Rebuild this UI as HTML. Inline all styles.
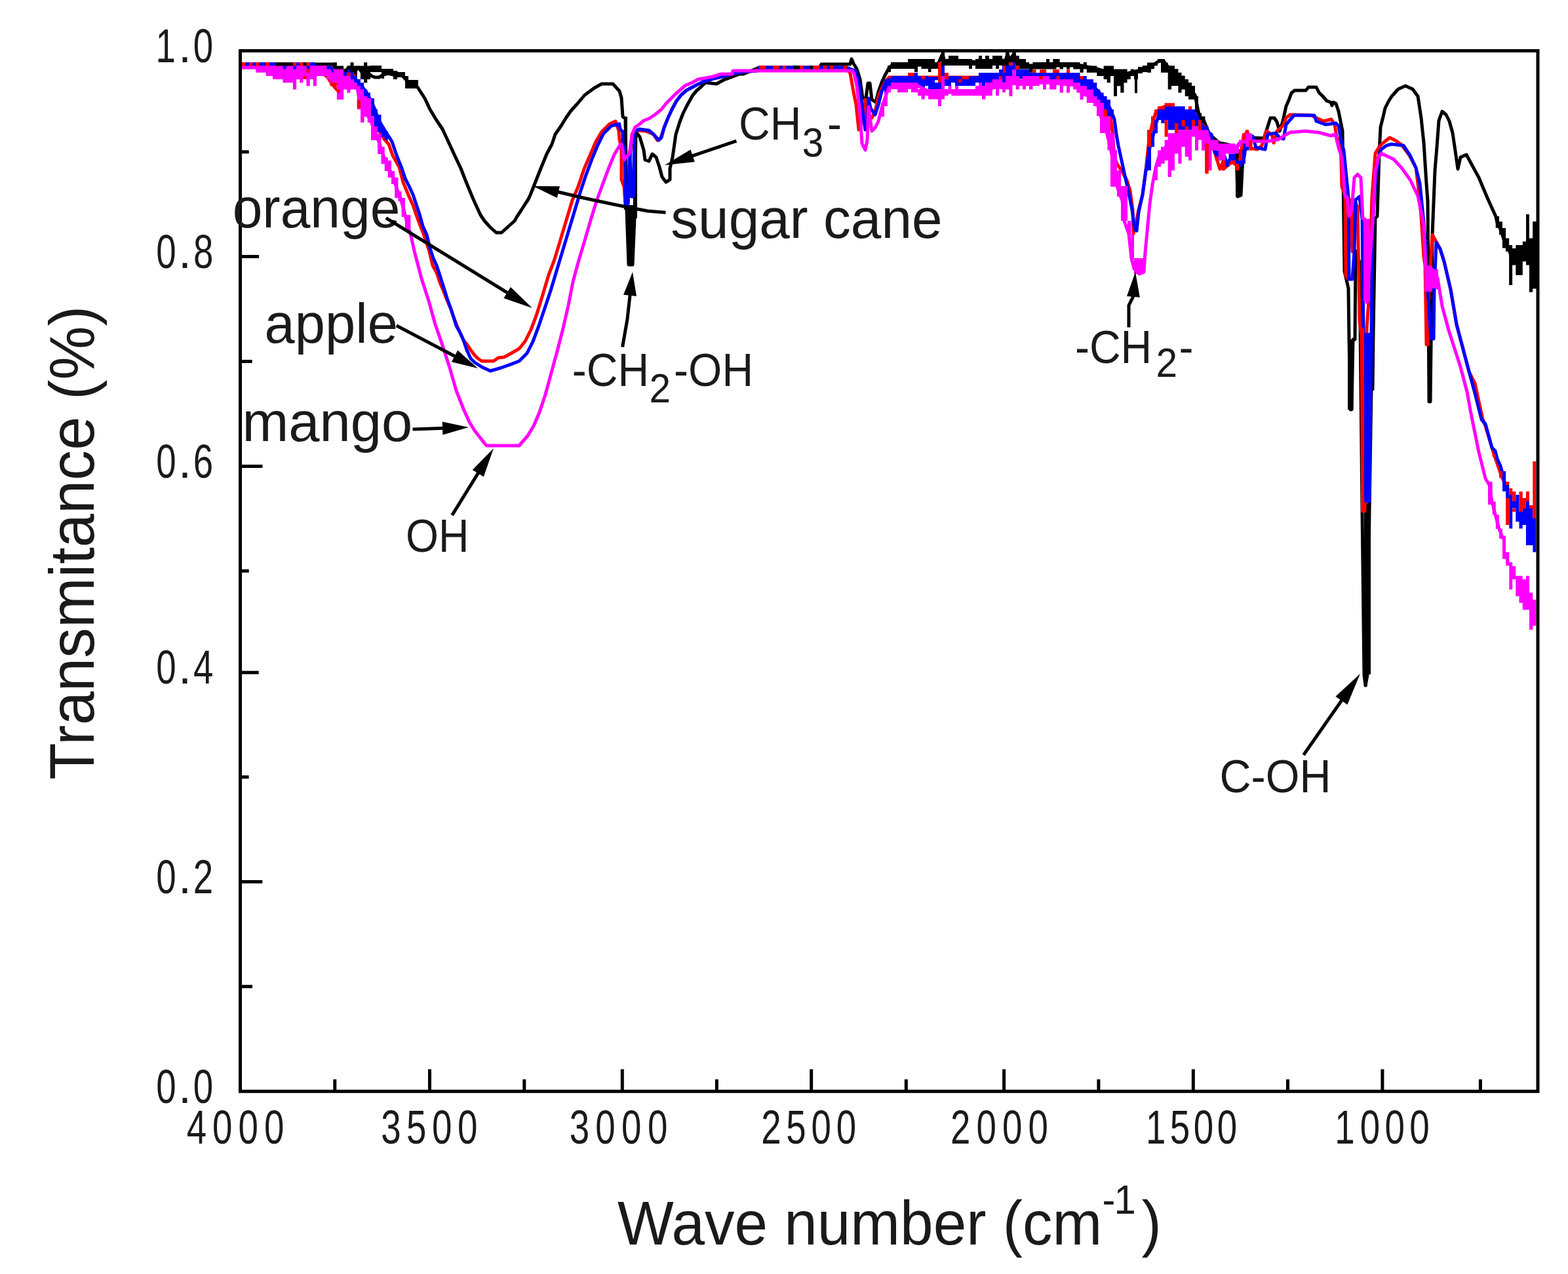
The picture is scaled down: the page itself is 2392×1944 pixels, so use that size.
<!DOCTYPE html>
<html><head><meta charset="utf-8"><title>FTIR spectra</title>
<style>html,body{margin:0;padding:0;background:#fff;}body{width:2392px;height:1944px;overflow:hidden;}svg{display:block;}</style>
</head><body>
<svg width="2392" height="1944" viewBox="0 0 2392 1944">
<rect width="2392" height="1944" fill="#fff"/>
<polyline points="369,98 508,98 511,103 522,108 527,108 532,103 537,103 542,108 547,103 552,110 557,108 562,112 567,116 572,118 578,118 585,114 592,112 600,114 606,112 612,113 616,118 622,124 630,128 637,133 648,150 656,167 665,182 675,197 682,212 688,225 694,238 703,257 712,280 722,304 727,315 733,328 739,337 748,347 757,355 765,355 774,347 785,337 789,330 795,321 800,313 806,304 810,295 821,267 825,257 834,235 842,220 847,205 856,192 864,179 871,169 881,158 892,145 907,134 918,128 935,128 945,139 948,149 950,178 954,181 956,320 959,404 965,404 968,333 970,201 976,209 982,229 984,244 990,246 995,235 1001,240 1006,255 1010,270 1016,278 1022,274 1022,257 1026,240 1031,205 1037,186 1042,173 1048,161 1053,152 1057,145 1063,138 1069,133 1076,126 1093,128 1104,122 1115,118 1128,113 1134,113 1158,103 1250,103 1253,97.9 1297,97.9 1299,90 1302,97 1307,105 1312,121 1316,150 1321,150 1324,127 1327,127 1330,152 1336,156 1340,140 1345,126 1350,115 1356,104 1360,100 1385,100 1426,98 1431,98 1438,82 1441,95 1460,93 1500,95 1534,92 1537,82 1540,92 1547,82 1550,95 1570,100 1600,100 1650,100 1673,105 1690,110 1720,112 1740,107 1758,100 1768,93 1775,93 1780,100 1800,118 1815,135 1823,145 1826,160 1830,180 1836,183 1845,205 1860,218 1880,222 1886,232 1888,300 1893,298 1896,240 1898,229 1902,201 1906,210 1928,211 1933,196 1938,180 1944,180 1948,186 1952,200 1957,185 1962,162 1966,153 1970,142 1975,138 1992,138 1996,133 2008,133 2012,141 2018,147 2024,154 2030,156 2032,161 2034,156 2038,158 2042,170 2045,185 2048,200 2051,414 2057,440 2058,518 2060,625 2062,625 2064,518 2067,518 2068,383 2074,400 2078,780 2081,1030 2083,1046 2086,1030 2089,780 2092,594 2094,594 2095,507 2098,333 2101,330 2104,234 2106,194 2110,178 2113,165 2118,155 2123,147 2133,136 2144,131 2155,136 2163,147 2168,180 2172,218 2176,280 2178,307 2180,613 2182,613 2185,359 2189,260 2192,224 2195,184 2200,170 2206,175 2211,185 2216,203 2220,230 2224,258 2228,240 2237,236 2244,249 2256,271 2269,302 2281.7,330 2284,340 2289,350 2294,365 2300,375 2305,390" fill="none" stroke="#000" stroke-width="5" stroke-linejoin="round" stroke-linecap="square"/>
<path d="M508.7 95.3H513.9V110.7H508.7ZM513.9 100.4H524.2V115.9H513.9ZM524.2 105.6H529.3V110.7H524.2ZM529.3 100.4H534.5V110.7H529.3ZM534.5 95.3H539.6V110.7H534.5ZM539.6 100.4H544.8V115.9H539.6ZM544.8 100.4H549.9V105.6H544.8ZM549.9 100.4H555.1V121H549.9ZM555.1 95.3H560.2V126.2H555.1ZM560.2 100.4H565V121H560.2ZM565 100H582V110H565ZM582 105H586V120H582ZM586 105H600V115H586ZM600 108H606V121H600ZM606 110H618V118H606ZM618 116H623V135H618ZM623 122H638V135H623ZM1354 100H1359V110H1354ZM1359 95H1385V105H1359ZM1385 90H1395V105H1385ZM1395 90H1400V110H1395ZM1400 90H1405.5V100H1400ZM1405.5 90H1416V105H1405.5ZM1416 90H1420.5V110H1416ZM1420.5 90H1426V105H1420.5ZM1426 95H1431V105H1426ZM1436 79H1441V100H1436ZM1441 90H1447V100H1441ZM1447 85H1462V100H1447ZM1462 90H1478V100H1462ZM1478 90H1483V105H1478ZM1483 95H1488V100H1483ZM1488 90H1493V105H1488ZM1493 85H1498V105H1493ZM1498 90H1503V105H1498ZM1503 85H1509V105H1503ZM1509 90H1514V105H1509ZM1514 85H1519V100H1514ZM1519 85H1524V105H1519ZM1524 85H1529V100H1524ZM1529 90H1534V100H1529ZM1534 79H1539.4V100H1534ZM1539.4 90H1544.5V95H1539.4ZM1544.5 79H1549.7V95H1544.5ZM1549.7 85H1554.8V100H1549.7ZM1554.8 90H1565V105.6H1554.8ZM1565 95H1570V105.6H1565ZM1570 100H1575.4V110.7H1570ZM1575.4 95H1596V105.6H1575.4ZM1596 90H1601V105.6H1596ZM1601 95H1606.3V105.6H1601ZM1606.3 90H1611.5V105.6H1606.3ZM1611.5 90H1616.6V100.4H1611.5ZM1616.6 95H1621.8V105.6H1616.6ZM1621.8 95H1627V100.4H1621.8ZM1627 95H1632V105.6H1627ZM1632 95H1637.2V100.4H1632ZM1637.2 95H1647.5V105.6H1637.2ZM1647.5 100.4H1652.7V110.7H1647.5ZM1652.7 95H1657.8V105.6H1652.7ZM1657.8 100.4H1673.3V110.7H1657.8ZM1673.3 105.6H1683.6V115.9H1673.3ZM1683.6 100.4H1688.7V121H1683.6ZM1688.7 100.4H1694V126.2H1688.7ZM1694 100.4H1699V115.9H1694ZM1699 105.6H1704V146.8H1699ZM1704 105.6H1709.3V131.3H1704ZM1709.3 105.6H1714.5V141.6H1709.3ZM1714.5 105.6H1719.6V126.2H1714.5ZM1719.6 110.7H1724.8V121H1719.6ZM1724.8 105.6H1730V115.9H1724.8ZM1730 108H1736V121H1730ZM1731 108H1735V142H1731ZM1736 102H1743V112H1736ZM1743 100H1750V110H1743ZM1750 95.4H1756V110.7H1750ZM1756 95.4H1761V105.2H1756ZM1761 95.4H1766V100.3H1761ZM1766 89.9H1771V95.4H1766ZM1771 89.9H1776.6V110.7H1771ZM1776.6 95.4H1781.7V110.7H1776.6ZM1781.7 100.3H1787V136.4H1781.7ZM1787 100.3H1792V131H1787ZM1792 105.2H1797.4V131H1792ZM1797.4 110.7H1802.5V141.4H1797.4ZM1802.5 115.6H1807.7V136.4H1802.5ZM1807.7 121H1813V146.8H1807.7ZM1813 126H1818V151.8H1813ZM1818 131H1823V151.8H1818ZM1823 146.8H1828V172.6H1823ZM1828 172.6H1833V192.8H1828ZM1833 177.5H1838.4V187.9H1833ZM1885 228H1894V300H1885ZM952 178H957V320H952ZM957 313H967V404H957ZM967 201H972V333H967ZM2056 518H2064.4V625H2056ZM2090.5 508H2096V594H2090.5ZM2081 768H2091V1029H2081ZM2081 1029H2085.5V1048H2081ZM2281.7 330H2286.9V347.7H2281.7ZM2286.9 338H2291.9V358H2286.9ZM2291.9 348H2297V378.5H2291.9ZM2297 363.5H2302.1V383.7H2297ZM2302.1 374H2307.1V435H2302.1ZM2307.1 379H2312.3V404.5H2307.1ZM2312.3 374H2322.8V419.7H2312.3ZM2322.8 368.5H2328V399H2322.8ZM2328 327H2332.9V404.5H2328ZM2332.9 363.5H2338.1V445.7H2332.9ZM2338.1 338H2344V440.5H2338.1Z" fill="#000"/>
<polyline points="369,97.9 475,97.9 482,104 492,112 500,118 506,128 516,139 524,128 532,113 540,115 545,125 547,135 549,135 556,140 566,160 573,180 578,199 586,212 593,220 599,237 609,255 615,278 624,300 630,313 635,328 639,339 645,354 651,371 655,384 660,405 666,416 671,431 677,445 682,458 688,472 692,484 697,497 702,508 707,519 712,525 718,534 724,542 729,547 735,551 753,551 760,546 769,545 780,539 792,532 801,521 810,503 819,479 828,449.5 837,419.5 846,395.6 855,365.6 864,335.7 873,305.7 882,284.8 891,257.8 900,236.9 909,216 918,201 930,189 939,185 944,200 945,212 948,229 948,274 952,285 954,311 958,311 961,240 964,205 971,199 985,200 997,205 1003,214 1008,210 1013,195 1019,180 1025,167 1032,154 1039,145 1047,138 1060,131 1072,125 1088,120 1106,116 1117,113 1130,110 1155,108 1158,102.9 1290,102.9 1297,112 1302,140 1306,160 1310,198 1313,190 1317,165 1320,152 1322,183 1330,180 1335,170 1340,147 1346,133 1351,124 1356,118 1360,118 1640,118 1660,125 1673,137 1685,167 1694,178 1697,200 1700,240 1704,250 1712,262 1719,275 1724,291 1728,320 1729,357 1732,345 1737,320 1743,297 1748,260 1753,211 1758,188 1763,172 1770,165 1784,160 1791,165 1805,175 1825,185 1840,195 1841,262 1845,205 1856,242 1861,258 1866,246 1866,258 1880,247 1886,252 1888,258 1892,240 1897,208 1903,201 1908,218 1908,226 1918,228 1925,222 1932,200 1940,205 1943,218 1948,200 1957,192 1962,180 1968,175 2000,176 2019,185 2031,182 2036,190 2040,215 2045,210 2047,285 2052,298 2053,420 2056,425 2060,305 2063,384 2066,305 2071,316 2074,490 2077,512 2079,780 2082,780 2085,500 2088,460 2093,300 2098,234 2104,224 2110,218 2120,210 2130,215 2138,221 2150,237 2160,256 2163,280 2168,330 2172,392 2174,405 2176,526 2178,526 2180,440 2185,358 2197,380 2203,399 2213,442 2222,495 2231,529 2241,567 2250,585 2262,640 2266,650 2278,690 2289,722 2295,737" fill="none" stroke="#f00" stroke-width="5" stroke-linejoin="round" stroke-linecap="square"/>
<polyline points="478,97.9 485,103 505,103 510,112 530,113 536,115 547,126 558,139 566,154 572,167 577,182 587,199 598,216 603,231 607,242 613,257 618,272 624,284 630,297 635,312 640,327 645,345 651,358 656,379 661,394 666,405 671,420 677,439 682,455 687,469 692,484 696,497 702,508 707,519 712,534 718,547 724,553 735,560 748,566 765,561 780,555.7 792,551 804,539 813,521 822,497 831,470.4 840,443.5 849,413.5 858,383.6 867,353.7 876,323.7 885,293.8 894,266.8 903,242.9 911.7,221.9 920.7,204 932.7,192 944.7,189 946,197 950,201 950,224 953,224 954,312 958,312 961,235 963,300 966,300 968,201 975,197 990,199 997,205 1005,214 1009,210 1013,195 1019,180 1025,167 1032,154 1039,145 1047,138 1060,131 1072,125 1088,120 1106,116 1117,113 1130,110 1155,108 1158,102.9 1290,102.9 1297,105 1305,108 1310,125 1315,160 1318,185 1320,198 1323,190 1325,150 1328,165 1335,175 1340,160 1345,140 1350,128 1356,122 1362,121 1640,116 1660,126 1673,137 1680,145 1690,158 1694,167 1700,182 1703,205 1706,222 1711,245 1716,268 1721,290 1727,320 1731,350 1734,352 1737,324 1743,297 1748,260 1754,225 1758,212 1763,190 1768,175 1780,172 1826,180 1838,198 1848,205 1853,232 1862,242 1867,236 1872,250 1878,240 1887,247 1893,250 1898,240 1900,225 1903,206 1911,208 1916,225 1930,228 1934,205 1946,203 1952,210 1958,212 1962,190 1968,183 1974,176 2005,176 2008,185 2022,190 2038,188 2042,192 2046,215 2050,230 2057,301 2058,426 2063,426 2066,384 2068,305 2074,300 2078,334 2080,512 2084,765 2089,765 2092,507 2094,342 2098,280 2103,240 2107,228 2115,222 2123,220 2141,222 2151,237 2160,256 2166,280 2172,340 2175,383 2178,440 2183,517 2187,517 2188,440 2191,370 2197,380 2203,399 2213,442 2222,495 2231,529 2241,567 2250,600 2260,640 2266,647 2276,683 2281,688 2284,700 2289,711 2294,730 2297,745" fill="none" stroke="#00f" stroke-width="5" stroke-linejoin="round" stroke-linecap="square"/>
<path d="M374.4 95.3H380V100.4H374.4ZM385.1 95.3H390.3V100.4H385.1ZM395.4 95.3H405.7V100.4H395.4ZM410.9 95.3H421.2V100.4H410.9ZM452.1 95.3H457.2V100.4H452.1ZM472.7 95.3H477.8V100.4H472.7ZM508.7 110.7H534.5V115.9H508.7ZM524.2 115.9H529.3V121H524.2ZM529.3 105.6H534.5V110.7H529.3ZM534.5 110.7H539.6V121H534.5ZM539.6 115.9H544.8V126.2H539.6ZM544.8 121H549.9V131.3H544.8ZM549.9 126.2H555.1V141.6H549.9ZM555.1 136.5H560.2V152H555.1ZM560.2 141.6H565V162H560.2ZM560.7 150H571V177.6H560.7ZM571 167H576V193H571ZM576 175H581.5V202H576ZM581.5 193H586.7V209H581.5ZM586.7 200H591.8V214H586.7ZM1349 121H1354V141H1349ZM1354 121H1359V131H1354ZM1359 116H1395V126H1359ZM1395 111H1400V126H1395ZM1400 116H1405.5V131H1400ZM1405.5 116H1411V136H1405.5ZM1411 116H1416V131H1411ZM1416 121H1426V136H1416ZM1426 126H1431V136H1426ZM1431 126H1436V136H1431ZM1436 100H1441V116H1436ZM1441 116H1451V131H1441ZM1451 116H1457V126H1451ZM1457 116H1462V131H1457ZM1462 121H1488V131H1462ZM1488 116H1493V126H1488ZM1493 111H1498V126H1493ZM1498 111H1503V131H1498ZM1503 111H1514V126H1503ZM1514 111H1524V121H1514ZM1524 106H1529V121H1524ZM1529 100H1544.5V126H1529ZM1544.5 95H1549.7V106H1544.5ZM1549.7 106H1570V116H1549.7ZM1570 111H1637V121H1570ZM1637 111H1647.5V126H1637ZM1647.5 116H1657.8V131H1647.5ZM1657.8 121H1668V142H1657.8ZM1668 126H1673.3V147H1668ZM1673.3 136.5H1678.4V152H1673.3ZM1678.4 141.6H1683.6V157H1678.4ZM1683.6 146.8H1688.7V167.4H1683.6ZM1688.7 152H1694V177.7H1688.7ZM1694 167H1699V178H1694ZM1750 224H1756V260H1750ZM1756 203.2H1761V224H1756ZM1761 183H1766V203.2H1761ZM1766 167.1H1771.3V183H1766ZM1771.3 167.1H1776.6V187.9H1771.3ZM1776.6 162.2H1781.7V183H1776.6ZM1781.7 162.2H1807.7V198.3H1781.7ZM1807.7 167.1H1823V198.3H1807.7ZM1823 172.6H1828V192.8H1823ZM1828 192.8H1843.6V203.2H1828ZM1853.8 229.5H1858.9V239.3H1853.8ZM1858.9 239.3H1864.2V244.8H1858.9ZM1864.2 229.5H1869.3V244.8H1864.2ZM1869.3 244.8H1874.5V254.6H1869.3ZM1874.5 234.4H1884.8V244.8H1874.5ZM1884.8 244.8H1890V249.7H1884.8ZM1890 244.8H1895V254.6H1890ZM1895 229.5H1900V249.7H1895ZM1900 219H1905V229.5H1900ZM2081 508H2091V765H2081ZM2292 719H2297.1V749.8H2292ZM2297.1 740H2302.3V760H2297.1ZM2302.3 755H2307.2V806.5H2302.3ZM2307.2 765H2312.3V775.5H2307.2ZM2312.3 755H2317.5V796H2312.3ZM2317.5 780H2322.7V806.5H2317.5ZM2322.7 776H2327.9V801H2322.7ZM2327.9 765H2333V832H2327.9ZM2333 776H2338.3V832H2333ZM2338.3 791H2343.4V842.6H2338.3Z" fill="#00f"/>
<polyline points="369,103 500,103 505,113 512,125 520,127 535,125 545,135 548,150 553,165 560,175 566,185 571,200 579,219 585,238 590,250 595,260 600,271 605,287 610,300 615,316 621,340 627,360 632,383 643,425 654,459 664,495 675,527 686,561 696,596 707,624 716,644 724,657 731,666 742,680 792,680 798,673 805,665 814,650 823,629 832,602 841,569 850,536 859,501 867,466 874,430 883,397 892,367 901,336 910,307 919,282 928,258 937,236 946,221 948,220 950,229 952,244 955,240 960,235 965,203 969,194 975,190 982,184 990,181 999,175 1009,167 1016,158 1024,150 1031,143 1039,136 1046,130 1056,126 1065,121 1087,117 1100,113 1117,113 1118,107.9 1300,107.9 1303,112 1307,131 1312,173 1315,219 1320,229 1323,214 1325,163 1330,200 1335,195 1340,185 1345,165 1350,150 1355,136 1360,133 1400,131 1420,141 1440,141 1500,140 1530,128 1600,126 1640,130 1650,140 1665,150 1673,155 1680,180 1689,205 1697,240 1700,270 1706,290 1712,306 1715,337 1722,357 1726,394 1730,410 1738,418 1745,415 1747,385 1750,354 1754,311 1758,282 1763,256 1769,235 1778,225 1789,210 1810,205 1842,205 1846,220 1865,224 1884,228 1890,219 1900,214 1910,215 1930,216 1950,213 1959,207 1968,202 1991,200 2011,202 2030,207 2037,205 2043,229 2047,240 2052,300 2055,300 2058,330 2062,320 2066,271 2071,266 2076,271 2079,334 2082,334 2085,462 2088,420 2094,340 2098,262 2103,240 2107,234 2126,243 2138,256 2151,274 2163,299 2172,343 2175,411 2185,411 2192,439 2193,424 2200,467 2210,504 2219,532 2228,560 2238,598 2244,631 2256,690 2266,730 2272,740 2276,765 2281,785 2287,807 2292,820" fill="none" stroke="#f0f" stroke-width="5" stroke-linejoin="round" stroke-linecap="square"/>
<path d="M369.2 100.4H390.3V105.6H369.2ZM390.3 100.4H405.7V110.7H390.3ZM405.7 100.4H416V115.9H405.7ZM416 100.4H431.5V121H416ZM431.5 100.4H446.9V126.2H431.5ZM446.9 100.4H452.1V136.5H446.9ZM452.1 100.4H457.2V121H452.1ZM457.2 100.4H462.4V126.2H457.2ZM462.4 100.4H467.5V121H462.4ZM467.5 105.6H472.7V131.3H467.5ZM472.7 100.4H477.8V121H472.7ZM477.8 100.4H483V131.3H477.8ZM483 100.4H498.4V115.9H483ZM498.4 105.6H503.6V121H498.4ZM503.6 110.7H508.7V131.3H503.6ZM508.7 105.6H513.9V131.3H508.7ZM513.9 105.6H524.2V152H513.9ZM524.2 115.9H529.3V136.5H524.2ZM529.3 110.7H534.5V141.6H529.3ZM534.5 121H539.6V136.5H534.5ZM539.6 126.2H544.8V136.5H539.6ZM544.8 131.3H549.9V165H544.8ZM549.9 136.5H555.1V165H549.9ZM555.1 146.8H560.2V175H555.1ZM545 150H550V167H545ZM550 150H555.5V187H550ZM555.5 150H560.7V178H555.5ZM560.7 150H566V187H560.7ZM566 178H571V214H566ZM571 193H576V214H571ZM576 204H581.5V235H576ZM581.5 224H586.7V250H581.5ZM586.7 240H591.8V261H586.7ZM591.8 245H597V271H591.8ZM597 261H602.2V281H597ZM602.2 271H607.4V302H602.2ZM607.4 292H612.6V307H607.4ZM612.6 302H617.8V331H612.6ZM617.8 328H626.4V349H617.8ZM1344 157H1349V178H1344ZM1349 141H1354V162H1349ZM1354 131H1359V141H1354ZM1359 126H1369V136H1359ZM1369 126H1385V141H1369ZM1385 126H1390V136H1385ZM1390 126H1400V141H1390ZM1400 136H1405.5V146H1400ZM1405.5 136H1410.7V151.5H1405.5ZM1410.7 136H1416V146H1410.7ZM1416 136H1431V151.5H1416ZM1431 136H1436V162H1431ZM1436 116H1441V151.5H1436ZM1441 136H1446.7V146H1441ZM1446.7 131H1451.4V141H1446.7ZM1451.4 136H1457V146H1451.4ZM1457 131H1462V146H1457ZM1462 136H1488V146H1462ZM1488 131H1493V146H1488ZM1493 126H1498V146H1493ZM1498 131H1503.4V151.5H1498ZM1503.4 126H1513.7V146H1503.4ZM1513.7 121H1519V136H1513.7ZM1519 121H1524V146H1519ZM1524 116H1529V136H1524ZM1529 126H1534V141H1529ZM1534 116H1539.4V136.5H1534ZM1539.4 116H1544.5V146.8H1539.4ZM1544.5 106H1549.7V126H1544.5ZM1549.7 116H1554.8V136.5H1549.7ZM1554.8 121H1560V131H1554.8ZM1560 116H1565V136.5H1560ZM1565 116H1570V131H1565ZM1570 116H1575.4V136.5H1570ZM1575.4 116H1585.7V131H1575.4ZM1585.7 121H1591V126H1585.7ZM1591 116H1596V136.5H1591ZM1596 116H1601V126H1596ZM1601 121H1611.5V136.5H1601ZM1611.5 121H1616.6V126H1611.5ZM1616.6 121H1621.8V141.6H1616.6ZM1621.8 121H1627V131H1621.8ZM1627 121H1632V141.6H1627ZM1632 121H1637.2V131H1632ZM1637.2 126H1642.4V136.5H1637.2ZM1642.4 126H1647.5V141.6H1642.4ZM1647.5 131H1652.7V152H1647.5ZM1652.7 131H1657.8V147H1652.7ZM1657.8 136.5H1668V157H1657.8ZM1668 147H1673.3V162H1668ZM1673.3 152H1678.4V172.5H1673.3ZM1678.4 162H1683.6V177.7H1678.4ZM1673 157H1684V177H1673ZM1678 177H1694V203H1678ZM1689.5 203H1700.5V229H1689.5ZM1694 229H1704V285H1694ZM1704 260H1710V300H1704ZM1710 284H1720V337H1710ZM1720 337H1725.5V358H1720ZM1725.5 357H1730V395H1725.5ZM1730 394H1745V418H1730ZM1761 254.6H1766V275H1761ZM1766 229.5H1771V254.6H1766ZM1771 224H1776.6V249.7H1771ZM1776.6 213.6H1781.7V244.8H1776.6ZM1781.7 203.2H1787V270H1781.7ZM1787 203.2H1792V260H1787ZM1792 198.3H1797.4V234.4H1792ZM1797.4 198.3H1802.5V249.7H1797.4ZM1802.5 198.3H1807.7V224H1802.5ZM1807.7 198.3H1813V239.3H1807.7ZM1813 198.3H1818V244.8H1813ZM1818 192.8H1823V208.7H1818ZM1823 192.8H1828V229.5H1823ZM1828 198.3H1833V213.6H1828ZM1833 198.3H1838.4V229.5H1833ZM1838.4 198.3H1843.6V219H1838.4ZM1843.6 213.6H1848.5V260H1843.6ZM1848.5 213.6H1858.9V229.5H1848.5ZM1858.9 219H1869.3V244.8H1858.9ZM1869.3 219H1884.8V234.4H1869.3ZM1884.8 224H1890V234.4H1884.8ZM1890 213.6H1895V224H1890ZM1895 208.7H1900V219H1895ZM1900 203.2H1910V224H1900ZM2173 405H2185V445H2173ZM2185 411H2194V440H2185ZM2080 334H2090V460H2080ZM2270 735H2276.6V770H2270ZM2276.6 765.5H2281.8V785.4H2276.6ZM2281.8 785.4H2287V807H2281.8ZM2287 807H2292V821.7H2287ZM2292 817.4H2297.1V852.8H2292ZM2297.1 842.4H2302.3V863H2297.1ZM2302.3 858H2307.2V899.5H2302.3ZM2307.2 864H2312.3V884H2307.2ZM2312.3 878.7H2317.5V909.8H2312.3ZM2317.5 878.7H2322.7V920H2317.5ZM2322.7 884H2327.9V930.6H2322.7ZM2327.9 878.7H2333V930.6H2327.9ZM2333 904.6H2338.3V960.8H2333ZM2338.3 915H2343.4V954.8H2338.3Z" fill="#f0f"/>
<path d="M369 95.3H374.4V100.4H369ZM380 95.3H385.1V100.4H380ZM390.3 95.3H395.4V100.4H390.3ZM405.7 95.3H410.9V100.4H405.7ZM446.9 95.3H452.1V100.4H446.9ZM457.2 95.3H462.4V100.4H457.2ZM467.5 95.3H472.7V110.7H467.5ZM462.4 115.9H467.5V121H462.4ZM503.6 126H508.7V131H503.6ZM508.7 126.2H513.9V131.3H508.7ZM513.9 136.5H519V141.6H513.9ZM544.8 152H549.9V165H544.8ZM529.3 110.7H534.5V115.9H529.3ZM1431 95H1436V126H1431ZM1385 111H1395V116H1385ZM1405.5 116H1411V121H1405.5ZM1441 111H1447V121H1441ZM1462 121H1467V126H1462ZM1467 116H1478V121H1467ZM1525 116H1529V121H1525ZM1530 100H1534V111H1530ZM1539.4 95H1544.5V100H1539.4ZM1549.7 100H1554.8V106H1549.7ZM1575.4 106H1580.5V111H1575.4ZM1586 106H1596V111H1586ZM1606 106H1616V111H1606ZM1627 106H1632V111H1627ZM1586 116H1591V121H1586ZM1611.5 116H1616.6V121H1611.5ZM1647.5 116H1652.7V121H1647.5ZM1683.6 167H1688.7V178H1683.6ZM1750 198.3H1756V224H1750ZM1756 177.5H1761V198.3H1756ZM1761 167.1H1766V177.5H1761ZM1766 162.2H1776.6V167.1H1766ZM1776.6 157.2H1792V162.2H1776.6ZM1776.6 183H1781.7V208.7H1776.6ZM1792 187.9H1797.4V203.2H1792ZM1802.5 183H1807.7V192.8H1802.5ZM1807.7 192.8H1813V198.3H1807.7ZM1813 162.2H1818V167.1H1813ZM1818 183H1823V192.8H1818ZM1828 183H1833V198.3H1828ZM1838.4 219H1843.6V265H1838.4ZM1853.8 239.3H1858.9V244.8H1853.8ZM1864.2 244.8H1869.3V260H1864.2ZM1879.7 244.8H1884.8V249.7H1879.7ZM1884.8 249.7H1890V260H1884.8ZM1890 234.4H1895V244.8H1890ZM1895 203.2H1900V213.6H1895ZM1900 198.3H1905V203.2H1900ZM1905.4 213.6H1910V229.5H1905.4ZM2076 500H2081V780H2076ZM2276.6 693H2281.8V697H2276.6ZM2287 719H2292V729.3H2287ZM2297.1 735H2302.3V740H2297.1ZM2297.1 760H2302.3V801H2297.1ZM2302.3 745H2307.2V755H2302.3ZM2307.2 750H2312.3V765H2307.2ZM2307.2 776H2312.3V781H2307.2ZM2317.5 750H2322.7V781H2317.5ZM2322.7 760H2327.9V776H2322.7ZM2327.9 750H2333V765H2327.9ZM2333 771H2338.3V776H2333ZM2338.3 704H2343.4V791H2338.3Z" fill="#f00"/>
<path d="M421.2 95.3H446.9V100.4H421.2ZM462.4 95.3H467.5V100.4H462.4ZM1210 100.1H1220V105.3H1210ZM1235.3 100.1H1240.4V105.3H1235.3Z" fill="#000"/>
<path d="M1158 100.1H1168.4V105.3H1158ZM1179 100.1H1189V105.3H1179ZM1194 100.1H1199V105.3H1194ZM1220 100.1H1225V105.3H1220ZM1240.4 100.1H1250.7V105.3H1240.4ZM1256 100.1H1261V105.3H1256ZM1266 100.1H1271V105.3H1266ZM1287 100.1H1292V105.3H1287Z" fill="#f00"/>
<path d="M431.5 100.4H436.6V105.6H431.5ZM447 100.4H452V105.6H447ZM467.5 100.4H472.7V105.6H467.5ZM498.4 100.4H503.6V105.6H498.4Z" fill="#00f"/>
<rect x="366.5" y="77.5" width="1979.5" height="1587.8" fill="none" stroke="#000" stroke-width="5"/>
<line x1="655.5" y1="1631.5" x2="655.5" y2="1664" stroke="#000" stroke-width="5"/>
<line x1="949.3" y1="1631.5" x2="949.3" y2="1664" stroke="#000" stroke-width="5"/>
<line x1="1237.7" y1="1631.5" x2="1237.7" y2="1664" stroke="#000" stroke-width="5"/>
<line x1="1531.6" y1="1631.5" x2="1531.6" y2="1664" stroke="#000" stroke-width="5"/>
<line x1="1820.3" y1="1631.5" x2="1820.3" y2="1664" stroke="#000" stroke-width="5"/>
<line x1="2108.9" y1="1631.5" x2="2108.9" y2="1664" stroke="#000" stroke-width="5"/>
<line x1="510.8" y1="1647" x2="510.8" y2="1664" stroke="#000" stroke-width="5"/>
<line x1="799.8" y1="1647" x2="799.8" y2="1664" stroke="#000" stroke-width="5"/>
<line x1="1093.4" y1="1647" x2="1093.4" y2="1664" stroke="#000" stroke-width="5"/>
<line x1="1382.3" y1="1647" x2="1382.3" y2="1664" stroke="#000" stroke-width="5"/>
<line x1="1675.9" y1="1647" x2="1675.9" y2="1664" stroke="#000" stroke-width="5"/>
<line x1="1964.5" y1="1647" x2="1964.5" y2="1664" stroke="#000" stroke-width="5"/>
<line x1="2258.4" y1="1647" x2="2258.4" y2="1664" stroke="#000" stroke-width="5"/>
<line x1="367" y1="231.8" x2="379.7" y2="231.8" stroke="#000" stroke-width="5"/>
<line x1="367" y1="391.5" x2="395.1" y2="391.5" stroke="#000" stroke-width="5"/>
<line x1="367" y1="551.5" x2="384.6" y2="551.5" stroke="#000" stroke-width="5"/>
<line x1="367" y1="711.4" x2="400.5" y2="711.4" stroke="#000" stroke-width="5"/>
<line x1="367" y1="871.2" x2="379.7" y2="871.2" stroke="#000" stroke-width="5"/>
<line x1="367" y1="1026.2" x2="394.7" y2="1026.2" stroke="#000" stroke-width="5"/>
<line x1="367" y1="1185.7" x2="379.6" y2="1185.7" stroke="#000" stroke-width="5"/>
<line x1="367" y1="1345.5" x2="400.3" y2="1345.5" stroke="#000" stroke-width="5"/>
<line x1="367" y1="1505.3" x2="385" y2="1505.3" stroke="#000" stroke-width="5"/>
<g font-family="'Liberation Sans', sans-serif">
<text transform="translate(237.4,94.5) scale(0.76,1)" font-size="72" fill="#1a1a1a">1</text>
<text transform="translate(271.9,94.5) scale(1.0,1)" font-size="72" fill="#1a1a1a">.</text>
<text transform="translate(294.8,94.5) scale(0.76,1)" font-size="72" fill="#1a1a1a">0</text>
<text transform="translate(238.2,409.1) scale(0.76,1)" font-size="72" fill="#1a1a1a">0</text>
<text transform="translate(271.9,409.1) scale(1.0,1)" font-size="72" fill="#1a1a1a">.</text>
<text transform="translate(295.1,409.1) scale(0.76,1)" font-size="72" fill="#1a1a1a">8</text>
<text transform="translate(238.2,728.9) scale(0.76,1)" font-size="72" fill="#1a1a1a">0</text>
<text transform="translate(271.9,728.9) scale(1.0,1)" font-size="72" fill="#1a1a1a">.</text>
<text transform="translate(294.8,728.9) scale(0.76,1)" font-size="72" fill="#1a1a1a">6</text>
<text transform="translate(238.2,1043.1) scale(0.76,1)" font-size="72" fill="#1a1a1a">0</text>
<text transform="translate(271.9,1043.1) scale(1.0,1)" font-size="72" fill="#1a1a1a">.</text>
<text transform="translate(295.1,1043.1) scale(0.76,1)" font-size="72" fill="#1a1a1a">4</text>
<text transform="translate(238.2,1363.1) scale(0.76,1)" font-size="72" fill="#1a1a1a">0</text>
<text transform="translate(271.9,1363.1) scale(1.0,1)" font-size="72" fill="#1a1a1a">.</text>
<text transform="translate(294.8,1363.1) scale(0.76,1)" font-size="72" fill="#1a1a1a">2</text>
<text transform="translate(238.2,1682.5) scale(0.76,1)" font-size="72" fill="#1a1a1a">0</text>
<text transform="translate(271.9,1682.5) scale(1.0,1)" font-size="72" fill="#1a1a1a">.</text>
<text transform="translate(294.8,1682.5) scale(0.76,1)" font-size="72" fill="#1a1a1a">0</text>
<text transform="translate(284.8,1744.5) scale(0.76,1)" font-size="72" fill="#1a1a1a">4</text>
<text transform="translate(323.9,1744.5) scale(0.76,1)" font-size="72" fill="#1a1a1a">0</text>
<text transform="translate(363.4,1744.5) scale(0.76,1)" font-size="72" fill="#1a1a1a">0</text>
<text transform="translate(402.9,1744.5) scale(0.76,1)" font-size="72" fill="#1a1a1a">0</text>
<text transform="translate(581.3,1744.5) scale(0.76,1)" font-size="72" fill="#1a1a1a">3</text>
<text transform="translate(619.9,1744.5) scale(0.76,1)" font-size="72" fill="#1a1a1a">5</text>
<text transform="translate(658.9,1744.5) scale(0.76,1)" font-size="72" fill="#1a1a1a">0</text>
<text transform="translate(697.9,1744.5) scale(0.76,1)" font-size="72" fill="#1a1a1a">0</text>
<text transform="translate(868.8,1744.5) scale(0.76,1)" font-size="72" fill="#1a1a1a">3</text>
<text transform="translate(908.3,1744.5) scale(0.76,1)" font-size="72" fill="#1a1a1a">0</text>
<text transform="translate(948.1,1744.5) scale(0.76,1)" font-size="72" fill="#1a1a1a">0</text>
<text transform="translate(987.9,1744.5) scale(0.76,1)" font-size="72" fill="#1a1a1a">0</text>
<text transform="translate(1161.2,1744.5) scale(0.76,1)" font-size="72" fill="#1a1a1a">2</text>
<text transform="translate(1199.3,1744.5) scale(0.76,1)" font-size="72" fill="#1a1a1a">5</text>
<text transform="translate(1237.5,1744.5) scale(0.76,1)" font-size="72" fill="#1a1a1a">0</text>
<text transform="translate(1275.7,1744.5) scale(0.76,1)" font-size="72" fill="#1a1a1a">0</text>
<text transform="translate(1450,1744.5) scale(0.76,1)" font-size="72" fill="#1a1a1a">2</text>
<text transform="translate(1489.5,1744.5) scale(0.76,1)" font-size="72" fill="#1a1a1a">0</text>
<text transform="translate(1529,1744.5) scale(0.76,1)" font-size="72" fill="#1a1a1a">0</text>
<text transform="translate(1568.5,1744.5) scale(0.76,1)" font-size="72" fill="#1a1a1a">0</text>
<text transform="translate(1748.1,1744.5) scale(0.76,1)" font-size="72" fill="#1a1a1a">1</text>
<text transform="translate(1784.8,1744.5) scale(0.76,1)" font-size="72" fill="#1a1a1a">5</text>
<text transform="translate(1820.7,1744.5) scale(0.76,1)" font-size="72" fill="#1a1a1a">0</text>
<text transform="translate(1856.7,1744.5) scale(0.76,1)" font-size="72" fill="#1a1a1a">0</text>
<text transform="translate(2036.3,1744.5) scale(0.76,1)" font-size="72" fill="#1a1a1a">1</text>
<text transform="translate(2074.8,1744.5) scale(0.76,1)" font-size="72" fill="#1a1a1a">0</text>
<text transform="translate(2112.5,1744.5) scale(0.76,1)" font-size="72" fill="#1a1a1a">0</text>
<text transform="translate(2150.3,1744.5) scale(0.76,1)" font-size="72" fill="#1a1a1a">0</text>
<text transform="translate(143,1189.8) rotate(-90) scale(0.962,1)" font-size="95.7" fill="#1a1a1a">Transmitance (%)</text>
<text transform="translate(942,1899.3) scale(0.962,1.0)" font-size="94.5" fill="#1a1a1a">Wave number (cm</text>
<text transform="translate(1681.4,1851.6) scale(0.95,1.0)" font-size="63" fill="#1a1a1a">-</text>
<text transform="translate(1699.5,1851.6) scale(0.95,1.0)" font-size="63" fill="#1a1a1a">1</text>
<text transform="translate(1741.5,1899.3) scale(0.962,1.0)" font-size="94.5" fill="#1a1a1a">)</text>
<text transform="translate(354.7,347.3) scale(0.966,1.0)" font-size="85" fill="#1a1a1a">orange</text>
<text transform="translate(403.6,523) scale(0.972,1.0)" font-size="85.5" fill="#1a1a1a">apple</text>
<text transform="translate(369.4,672.5) scale(1.0,1.0)" font-size="85" fill="#1a1a1a">mango</text>
<text transform="translate(1023.2,362.9) scale(0.974,1.0)" font-size="86" fill="#1a1a1a">sugar cane</text>
<text transform="translate(619,842) scale(0.905,1.0)" font-size="71" fill="#1a1a1a">OH</text>
<text transform="translate(1860.5,1208.7) scale(0.937,1.0)" font-size="71" fill="#1a1a1a">C-OH</text>
<text transform="translate(872.8,589) scale(0.93,1.0)" font-size="71" fill="#1a1a1a">-CH</text>
<text transform="translate(990.5,614.3) scale(0.93,1.0)" font-size="63" fill="#1a1a1a">2</text>
<text transform="translate(1028.1,589) scale(0.93,1.0)" font-size="71" fill="#1a1a1a">-OH</text>
<text transform="translate(1127.1,213.3) scale(0.93,1.0)" font-size="71" fill="#1a1a1a">CH</text>
<text transform="translate(1223.7,238.5) scale(0.93,1.0)" font-size="63" fill="#1a1a1a">3</text>
<text transform="translate(1261.9,213.3) scale(0.93,1.0)" font-size="71" fill="#1a1a1a">-</text>
<text transform="translate(1639.9,553.8) scale(0.93,1.0)" font-size="71" fill="#1a1a1a">-CH</text>
<text transform="translate(1763.4,574.5) scale(0.93,1.0)" font-size="63" fill="#1a1a1a">2</text>
<text transform="translate(1798.5,553.8) scale(0.93,1.0)" font-size="71" fill="#1a1a1a">-</text>
</g>
<polyline points="1013,324 988,322 967,318 937,312 890,302 850,292.6" fill="none" stroke="#000" stroke-width="5" stroke-linejoin="round" stroke-linecap="square" stroke-linecap="butt"/>
<polygon points="813,284 854,284.3 849.9,301.9" fill="#000"/>
<polyline points="591,334 775.4,447.5" fill="none" stroke="#000" stroke-width="5" stroke-linejoin="round" stroke-linecap="square" stroke-linecap="butt"/>
<polygon points="812,470 768.4,454.9 778.9,437.9" fill="#000"/>
<polyline points="607,498 695.3,544.3" fill="none" stroke="#000" stroke-width="5" stroke-linejoin="round" stroke-linecap="square" stroke-linecap="butt"/>
<polygon points="729,562 688.9,552.3 698.2,534.6" fill="#000"/>
<polyline points="632,655 677,653.4" fill="none" stroke="#000" stroke-width="5" stroke-linejoin="round" stroke-linecap="square" stroke-linecap="butt"/>
<polygon points="715,652 675.4,663.4 674.7,643.5" fill="#000"/>
<polyline points="691,784 730.3,720.5" fill="none" stroke="#000" stroke-width="5" stroke-linejoin="round" stroke-linecap="square" stroke-linecap="butt"/>
<polygon points="753,684 737.8,727.5 720.8,717" fill="#000"/>
<polyline points="950,527 957,487 961,451 961.2,448.8" fill="none" stroke="#000" stroke-width="5" stroke-linejoin="round" stroke-linecap="square" stroke-linecap="butt"/>
<polygon points="965,415 971,451.9 951.1,449.7" fill="#000"/>
<polyline points="1121,216 1054.8,238.3" fill="none" stroke="#000" stroke-width="5" stroke-linejoin="round" stroke-linecap="square" stroke-linecap="butt"/>
<polygon points="1014,252 1053.5,228.2 1059.8,247.1" fill="#000"/>
<polyline points="1722,497 1722,466 1729,452 1729.1,450.9" fill="none" stroke="#000" stroke-width="5" stroke-linejoin="round" stroke-linecap="square" stroke-linecap="butt"/>
<polygon points="1732,415 1738.9,453.7 1719,452.1" fill="#000"/>
<polyline points="1990,1150 2047.6,1067.4" fill="none" stroke="#000" stroke-width="5" stroke-linejoin="round" stroke-linecap="square" stroke-linecap="butt"/>
<polygon points="2075,1028 2055.4,1075.3 2037.4,1062.7" fill="#000"/>
</svg>
</body></html>
